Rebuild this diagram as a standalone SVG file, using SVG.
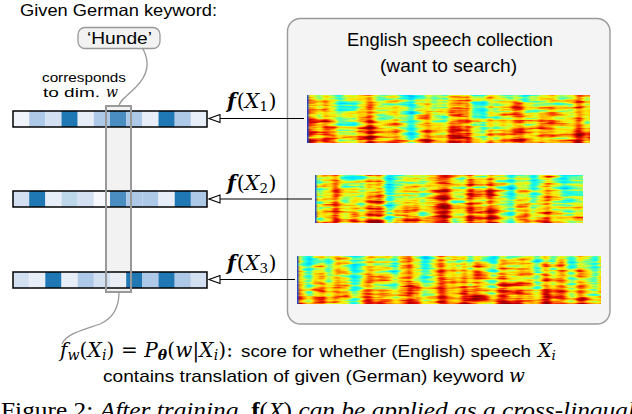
<svg xmlns="http://www.w3.org/2000/svg" width="632" height="414" viewBox="0 0 632 414">
<style>
.sans{font-family:"Liberation Sans","DejaVu Sans",sans-serif;fill:#000}
.math{font-family:"DejaVu Serif","Liberation Serif",serif;fill:#000}
.rm{font-family:"Liberation Serif","DejaVu Serif",serif;fill:#000}
.it{font-style:italic}
.bf{font-weight:bold}
.bar{fill:none;stroke:#000;stroke-width:1.5}
.conn{fill:none;stroke:#000;stroke-width:1.2}
.gcurve{fill:none;stroke:#999;stroke-width:1.3}
.c0{fill:#f0f4fa}.c1{fill:#aec8e8}.c2{fill:#d3e0f2}.c3{fill:#1f77b4}.c4{fill:#e8eef8}.c5{fill:#4a8dc0}.c6{fill:#bcd6ea}.c7{fill:#f6f8fc}
</style>
<defs>
<marker id="oa" markerUnits="userSpaceOnUse" markerWidth="14" markerHeight="10" refX="11" refY="4" orient="auto" viewBox="-1 -1 13 10">
<path d="M0,0 L11,4 L0,8 Z" fill="#fff" stroke="#000" stroke-width="1.1"/>
</marker>
<linearGradient id="edge" x1="0" x2="1" y1="0" y2="0">
<stop offset="0" stop-color="#0030e0"/><stop offset="1" stop-color="#00a0ff" stop-opacity="0"/>
</linearGradient>
<linearGradient id="bias" x1="0" x2="0" y1="0" y2="1">
<stop offset="0" stop-color="#555"/><stop offset="0.5" stop-color="#737373"/><stop offset="1" stop-color="#a0a0a0"/>
</linearGradient>
<filter id="sp1" x="0" y="0" width="1" height="1" color-interpolation-filters="sRGB">
<feTurbulence type="fractalNoise" baseFrequency="0.03 0.3" numOctaves="3" seed="2" result="a0"/>
<feColorMatrix in="a0" type="matrix" values="1 0 0 0 0 1 0 0 0 0 1 0 0 0 0 0 0 0 0 1" result="a"/>
<feTurbulence type="fractalNoise" baseFrequency="0.06 0.004" numOctaves="2" seed="7" result="b0"/>
<feColorMatrix in="b0" type="matrix" values="1 0 0 0 0 1 0 0 0 0 1 0 0 0 0 0 0 0 0 1" result="b"/>
<feComposite in="a" in2="b" operator="arithmetic" k1="0" k2="0.55" k3="0.8" k4="-0.175" result="ab"/>
<feComposite in="ab" in2="SourceGraphic" operator="arithmetic" k1="0" k2="1" k3="0.6" k4="-0.29" result="c"/>
<feComponentTransfer in="c">
<feFuncR type="table" tableValues="0 0 0 0 0 0.05 0.15 0.35 0.6 0.85 1 1 1 1 0.92 0.8 0.65 0.55 0.55 0.55 0.55"/>
<feFuncG type="table" tableValues="0.5 0.6 0.7 0.8 0.9 0.95 1 1 1 1 0.9 0.75 0.55 0.3 0.1 0 0 0 0 0 0"/>
<feFuncB type="table" tableValues="1 1 1 1 1 0.95 0.85 0.65 0.4 0.15 0 0 0 0 0 0 0 0 0 0 0"/>
</feComponentTransfer>
<feComposite operator="in" in2="SourceGraphic"/>
</filter>
<filter id="sp2" x="0" y="0" width="1" height="1" color-interpolation-filters="sRGB">
<feTurbulence type="fractalNoise" baseFrequency="0.03 0.3" numOctaves="3" seed="11" result="a0"/>
<feColorMatrix in="a0" type="matrix" values="1 0 0 0 0 1 0 0 0 0 1 0 0 0 0 0 0 0 0 1" result="a"/>
<feTurbulence type="fractalNoise" baseFrequency="0.06 0.004" numOctaves="2" seed="23" result="b0"/>
<feColorMatrix in="b0" type="matrix" values="1 0 0 0 0 1 0 0 0 0 1 0 0 0 0 0 0 0 0 1" result="b"/>
<feComposite in="a" in2="b" operator="arithmetic" k1="0" k2="0.55" k3="0.8" k4="-0.175" result="ab"/>
<feComposite in="ab" in2="SourceGraphic" operator="arithmetic" k1="0" k2="1" k3="0.6" k4="-0.29" result="c"/>
<feComponentTransfer in="c">
<feFuncR type="table" tableValues="0 0 0 0 0 0.05 0.15 0.35 0.6 0.85 1 1 1 1 0.92 0.8 0.65 0.55 0.55 0.55 0.55"/>
<feFuncG type="table" tableValues="0.5 0.6 0.7 0.8 0.9 0.95 1 1 1 1 0.9 0.75 0.55 0.3 0.1 0 0 0 0 0 0"/>
<feFuncB type="table" tableValues="1 1 1 1 1 0.95 0.85 0.65 0.4 0.15 0 0 0 0 0 0 0 0 0 0 0"/>
</feComponentTransfer>
<feComposite operator="in" in2="SourceGraphic"/>
</filter>
<filter id="sp3" x="0" y="0" width="1" height="1" color-interpolation-filters="sRGB">
<feTurbulence type="fractalNoise" baseFrequency="0.03 0.3" numOctaves="3" seed="31" result="a0"/>
<feColorMatrix in="a0" type="matrix" values="1 0 0 0 0 1 0 0 0 0 1 0 0 0 0 0 0 0 0 1" result="a"/>
<feTurbulence type="fractalNoise" baseFrequency="0.06 0.004" numOctaves="2" seed="41" result="b0"/>
<feColorMatrix in="b0" type="matrix" values="1 0 0 0 0 1 0 0 0 0 1 0 0 0 0 0 0 0 0 1" result="b"/>
<feComposite in="a" in2="b" operator="arithmetic" k1="0" k2="0.55" k3="0.8" k4="-0.175" result="ab"/>
<feComposite in="ab" in2="SourceGraphic" operator="arithmetic" k1="0" k2="1" k3="0.6" k4="-0.27" result="c"/>
<feComponentTransfer in="c">
<feFuncR type="table" tableValues="0 0 0 0 0 0.05 0.15 0.35 0.6 0.85 1 1 1 1 0.92 0.8 0.65 0.55 0.55 0.55 0.55"/>
<feFuncG type="table" tableValues="0.5 0.6 0.7 0.8 0.9 0.95 1 1 1 1 0.9 0.75 0.55 0.3 0.1 0 0 0 0 0 0"/>
<feFuncB type="table" tableValues="1 1 1 1 1 0.95 0.85 0.65 0.4 0.15 0 0 0 0 0 0 0 0 0 0 0"/>
</feComponentTransfer>
<feComposite operator="in" in2="SourceGraphic"/>
</filter>
</defs>
<rect width="632" height="414" fill="#fff"/>

<g id="collection">
<rect x="287.5" y="18.5" width="322.5" height="305.5" rx="13" fill="#f4f4f4" stroke="#999" stroke-width="1.4"/>
<text class="sans" x="347" y="46" font-size="17.5" textLength="206" lengthAdjust="spacingAndGlyphs">English speech collection</text>
<text class="sans" x="380" y="72" font-size="17.5" textLength="137" lengthAdjust="spacingAndGlyphs">(want to search)</text>
</g>

<g id="spectrogram1">
<rect x="307" y="95" width="283" height="48" fill="url(#bias)" filter="url(#sp1)"/>
<rect x="307" y="95" width="3" height="48" fill="url(#edge)"/>
</g>
<g id="spectrogram2">
<rect x="315" y="175" width="268" height="48" fill="url(#bias)" filter="url(#sp2)"/>
<rect x="315" y="175" width="3" height="48" fill="url(#edge)"/>
</g>
<g id="spectrogram3">
<rect x="297" y="256" width="304" height="48" fill="url(#bias)" filter="url(#sp3)"/>
<rect x="297" y="256" width="3" height="48" fill="url(#edge)"/>
</g>

<g id="keyword">
<text class="sans" x="20" y="16" font-size="16.5" textLength="197" lengthAdjust="spacingAndGlyphs">Given German keyword:</text>
<rect x="78" y="27.5" width="82" height="21" rx="7" fill="#f2f2f2" stroke="#999" stroke-width="1.3"/>
<text class="sans" x="87" y="44" font-size="17" textLength="65" lengthAdjust="spacingAndGlyphs">‘Hunde’</text>
</g>

<g id="dim-label">
<text class="sans" x="42" y="82" font-size="13" textLength="84" lengthAdjust="spacingAndGlyphs">corresponds</text>
<text class="sans" x="43" y="97" font-size="13" textLength="57" lengthAdjust="spacingAndGlyphs">to dim.</text>
<text class="math it" x="106" y="97" font-size="14">w</text>
</g>

<g id="column-fill">
<rect x="106" y="106" width="25" height="186" fill="#f2f2f2"/>
</g>

<g id="vector1">
<rect class="c0" x="13" y="111" width="16.2" height="16"/>
<rect class="c1" x="29.2" y="111" width="16.2" height="16"/>
<rect class="c2" x="45.3" y="111" width="16.2" height="16"/>
<rect class="c3" x="61.5" y="111" width="16.2" height="16"/>
<rect class="c4" x="77.7" y="111" width="16.2" height="16"/>
<rect class="c1" x="93.8" y="111" width="16.2" height="16"/>
<rect class="c5" x="110" y="111" width="16.2" height="16"/>
<rect class="c1" x="126.2" y="111" width="16.2" height="16"/>
<rect class="c4" x="142.3" y="111" width="16.2" height="16"/>
<rect class="c3" x="158.5" y="111" width="16.2" height="16"/>
<rect class="c1" x="174.7" y="111" width="16.2" height="16"/>
<rect class="c4" x="190.8" y="111" width="16.2" height="16"/>
<rect class="bar" x="13" y="111" width="194" height="16"/>
</g>
<g id="vector2">
<rect class="c2" x="13" y="191" width="16.2" height="16"/>
<rect class="c3" x="29.2" y="191" width="16.2" height="16"/>
<rect class="c4" x="45.3" y="191" width="16.2" height="16"/>
<rect class="c6" x="61.5" y="191" width="16.2" height="16"/>
<rect class="c2" x="77.7" y="191" width="16.2" height="16"/>
<rect class="c7" x="93.8" y="191" width="16.2" height="16"/>
<rect class="c5" x="110" y="191" width="16.2" height="16"/>
<rect class="c1" x="126.2" y="191" width="16.2" height="16"/>
<rect class="c1" x="142.3" y="191" width="16.2" height="16"/>
<rect class="c4" x="158.5" y="191" width="16.2" height="16"/>
<rect class="c3" x="174.7" y="191" width="16.2" height="16"/>
<rect class="c1" x="190.8" y="191" width="16.2" height="16"/>
<rect class="bar" x="13" y="191" width="194" height="16"/>
</g>
<g id="vector3">
<rect class="c2" x="13" y="272" width="16.2" height="16"/>
<rect class="c4" x="29.2" y="272" width="16.2" height="16"/>
<rect class="c3" x="45.3" y="272" width="16.2" height="16"/>
<rect class="c4" x="61.5" y="272" width="16.2" height="16"/>
<rect class="c1" x="77.7" y="272" width="16.2" height="16"/>
<rect class="c2" x="93.8" y="272" width="16.2" height="16"/>
<rect fill="#eaeef4" x="110" y="272" width="16.2" height="16"/>
<rect class="c3" x="126.2" y="272" width="16.2" height="16"/>
<rect class="c1" x="142.3" y="272" width="16.2" height="16"/>
<rect class="c3" x="158.5" y="272" width="16.2" height="16"/>
<rect class="c1" x="174.7" y="272" width="16.2" height="16"/>
<rect class="c2" x="190.8" y="272" width="16.2" height="16"/>
<rect class="bar" x="13" y="272" width="194" height="16"/>
</g>

<g id="column-highlight">
<rect x="106" y="106" width="25" height="186" fill="none" stroke="#999" stroke-width="2"/>
</g>

<g id="connectors">
<path class="gcurve" d="M143,49 C150,62 149,74 136,87 C126,97 120,100 119,106"/>
<path class="gcurve" d="M119,292 C119,305 114,318 100,324 C80,331 66,334 62,344"/>
<line class="conn" x1="304" y1="118.5" x2="209" y2="118.5" marker-end="url(#oa)"/>
<line class="conn" x1="312" y1="199" x2="209" y2="199" marker-end="url(#oa)"/>
<line class="conn" x1="295" y1="279.5" x2="209" y2="279.5" marker-end="url(#oa)"/>
</g>

<g id="labels">
<text class="math" x="227" y="108" font-size="20.5"><tspan class="it bf">f</tspan><tspan dx="1">(</tspan><tspan class="it">X</tspan><tspan font-size="13.5" dy="3">1</tspan><tspan dy="-3" dx="0.5">)</tspan></text>
<text class="math" x="227" y="190" font-size="20.5"><tspan class="it bf">f</tspan><tspan dx="1">(</tspan><tspan class="it">X</tspan><tspan font-size="13.5" dy="3">2</tspan><tspan dy="-3" dx="0.5">)</tspan></text>
<text class="math" x="227" y="270" font-size="20.5"><tspan class="it bf">f</tspan><tspan dx="1">(</tspan><tspan class="it">X</tspan><tspan font-size="13.5" dy="3">3</tspan><tspan dy="-3" dx="0.5">)</tspan></text>
</g>

<g id="description">
<text class="math" x="60" y="357" font-size="20" textLength="173" lengthAdjust="spacing"><tspan class="it">f</tspan><tspan class="it" font-size="14" dy="3">w</tspan><tspan dy="-3">(</tspan><tspan class="it">X</tspan><tspan class="it" font-size="14" dy="3">i</tspan><tspan dy="-3">) = </tspan><tspan class="it">P</tspan><tspan class="it bf" font-size="14" dy="3">θ</tspan><tspan dy="-3">(</tspan><tspan class="it">w</tspan><tspan>|</tspan><tspan class="it">X</tspan><tspan class="it" font-size="14" dy="3">i</tspan><tspan dy="-3">):</tspan></text>
<text class="sans" x="241" y="357" font-size="17" textLength="290" lengthAdjust="spacingAndGlyphs">score for whether (English) speech</text>
<text class="math it" x="538" y="357" font-size="19">X<tspan font-size="13.5" dy="3">i</tspan></text>
<text class="sans" x="103" y="382" font-size="17" textLength="401" lengthAdjust="spacingAndGlyphs">contains translation of given (German) keyword</text>
<text class="math it" x="509" y="382" font-size="18.5">w</text>
</g>

<g id="caption">
<text class="rm" x="1" y="418" font-size="24" textLength="634" lengthAdjust="spacingAndGlyphs">Figure 2: <tspan class="it">After training, </tspan><tspan class="bf">f</tspan><tspan>(</tspan><tspan class="it">X</tspan><tspan>) </tspan><tspan class="it">can be applied as a cross-lingual</tspan></text>
</g>
</svg>
